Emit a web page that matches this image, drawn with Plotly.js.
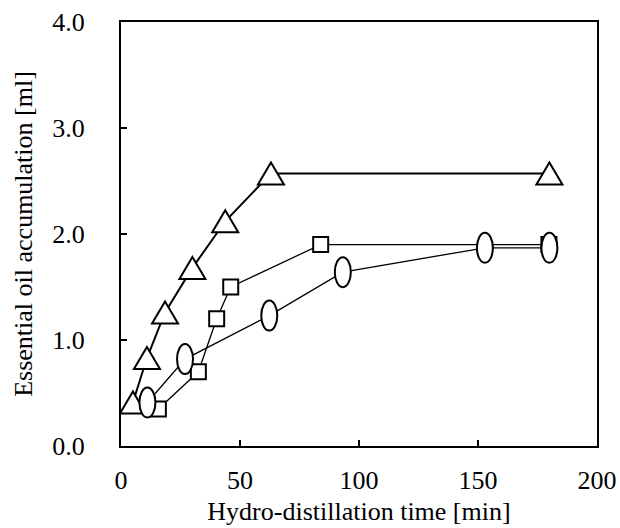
<!DOCTYPE html>
<html>
<head>
<meta charset="utf-8">
<script src="https://cdn.plot.ly/plotly-3.0.1.min.js"></script>
<style>html,body{margin:0;padding:0;background:#fff;}#chart{width:620px;height:528px;}</style>
</head>
<body>
<div id="chart"></div>
<script>
// Series: triangles
var triX = [5.0, 10.9, 18.5, 30.0, 43.8, 63.0, 180.0];
var triY = [0.41, 0.83, 1.26, 1.68, 2.12, 2.57, 2.57];
// Series: squares
var sqX = [15.7, 32.5, 40.2, 46.1, 83.9, 179.8];
var sqY = [0.35, 0.70, 1.20, 1.50, 1.90, 1.90];
// Series: ovals
var ovX = [11.1, 26.9, 62.3, 93.2, 152.9, 180.0];
var ovY = [0.41, 0.82, 1.23, 1.64, 1.87, 1.87];

var xTicks = [0, 50, 100, 150, 200];
var yTicks = [0, 1, 2, 3, 4];

var font = 'Liberation Serif, Times New Roman, serif';
var fs = 26;

var traces = [
  {x: triX, y: triY, mode: 'lines', line: {color: '#000', width: 2}, hoverinfo: 'skip', showlegend: false},
  {x: sqX, y: sqY, mode: 'lines+markers', line: {color: '#000', width: 1.3},
   marker: {symbol: 'square', size: 15, color: '#fff', line: {color: '#000', width: 2}}, showlegend: false},
  {x: ovX, y: ovY, mode: 'lines', line: {color: '#000', width: 1.3}, showlegend: false}
];

var shapes = [];
triX.forEach(function (x, i) {
  shapes.push({type: 'path', xref: 'x', yref: 'y', xsizemode: 'pixel', ysizemode: 'pixel',
    xanchor: x, yanchor: triY[i], path: 'M-13,-11 L13,-11 L0,11 Z',
    fillcolor: '#fff', line: {color: '#000', width: 2}, layer: 'above'});
});
ovX.forEach(function (x, i) {
  shapes.push({type: 'circle', xref: 'x', yref: 'y', xsizemode: 'pixel', ysizemode: 'pixel',
    xanchor: x, yanchor: ovY[i], x0: -8, x1: 8, y0: -15, y1: 15,
    fillcolor: '#fff', line: {color: '#000', width: 2}, layer: 'above'});
});

var layout = {
  width: 620, height: 528,
  margin: {l: 121, r: 23, t: 22, b: 82},
  paper_bgcolor: '#fff', plot_bgcolor: '#fff',
  font: {family: font, size: fs, color: '#000'},
  showlegend: false,
  xaxis: {
    range: [0, 200], tickvals: xTicks, ticktext: xTicks.map(String),
    ticks: 'inside', ticklen: 6, tickwidth: 1.5, tickcolor: '#000',
    showline: true, linewidth: 2, linecolor: '#000', mirror: true,
    showgrid: false, zeroline: false, ticklabelstandoff: 10,
    tickfont: {family: font, size: fs, color: '#000'},
    title: {text: 'Hydro-distillation time [min]', font: {family: font, size: fs, color: '#000'}, standoff: 8}
  },
  yaxis: {
    range: [0, 4], tickvals: yTicks, ticktext: yTicks.map(function (v) { return v.toFixed(1); }),
    ticks: 'inside', ticklen: 6, tickwidth: 1.5, tickcolor: '#000',
    showline: true, linewidth: 2, linecolor: '#000', mirror: true,
    showgrid: false, zeroline: false, ticklabelstandoff: 29,
    tickfont: {family: font, size: fs, color: '#000'},
    title: {text: 'Essential oil accumulation [ml]', font: {family: font, size: fs, color: '#000'}, standoff: 12}
  },
  shapes: shapes
};

Plotly.newPlot('chart', traces, layout, {displayModeBar: false, staticPlot: true});
</script>
</body>
</html>
